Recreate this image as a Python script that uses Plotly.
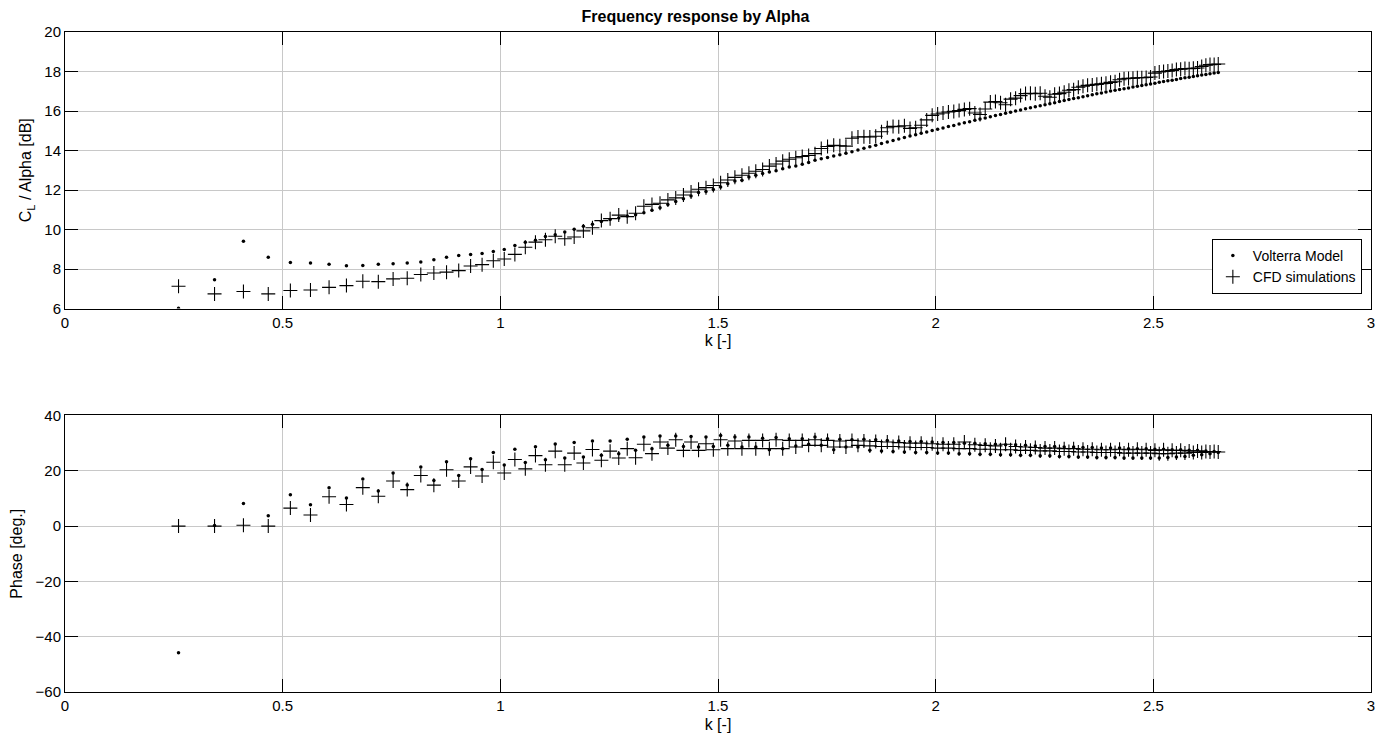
import plotly.graph_objects as go
from plotly.subplots import make_subplots

# reduced frequency k [-]
k = [0.2608, 0.3435, 0.4099, 0.4669, 0.5177, 0.5639, 0.6066, 0.6465, 0.6841, 0.7197,
     0.7537, 0.7861, 0.8173, 0.8473, 0.8764, 0.9044, 0.9317, 0.9581, 0.9839, 1.0090,
     1.0334, 1.0574, 1.0807, 1.1036, 1.1261, 1.1480, 1.1696, 1.1908, 1.2116, 1.2321,
     1.2522, 1.2720, 1.2915, 1.3107, 1.3297, 1.3483, 1.3668, 1.3849, 1.4029, 1.4206,
     1.4381, 1.4553, 1.4724, 1.4893, 1.5060, 1.5225, 1.5388, 1.5550, 1.5710, 1.5868,
     1.6025, 1.6180, 1.6334, 1.6486, 1.6637, 1.6787, 1.6935, 1.7082, 1.7228, 1.7372,
     1.7516, 1.7658, 1.7799, 1.7939, 1.8077, 1.8215, 1.8352, 1.8488, 1.8623, 1.8756,
     1.8889, 1.9021, 1.9152, 1.9282, 1.9411, 1.9540, 1.9667, 1.9794, 1.9920, 2.0045,
     2.0169, 2.0293, 2.0416, 2.0538, 2.0659, 2.0780, 2.0900, 2.1019, 2.1138, 2.1256,
     2.1373, 2.1490, 2.1606, 2.1721, 2.1836, 2.1950, 2.2064, 2.2177, 2.2289, 2.2401,
     2.2512, 2.2623, 2.2733, 2.2843, 2.2952, 2.3061, 2.3169, 2.3277, 2.3384, 2.3490,
     2.3597, 2.3702, 2.3808, 2.3912, 2.4017, 2.4121, 2.4224, 2.4327, 2.4430, 2.4532,
     2.4633, 2.4735, 2.4835, 2.4936, 2.5036, 2.5136, 2.5235, 2.5334, 2.5432, 2.5530,
     2.5628, 2.5726, 2.5823, 2.5919, 2.6015, 2.6111, 2.6207, 2.6302, 2.6397, 2.6491]

# magnitude C_L / Alpha [dB]
mag_volterra = [6.01, 7.45, 9.40, 8.60, 8.33, 8.31, 8.24, 8.16, 8.18, 8.24,
                8.27, 8.31, 8.36, 8.47, 8.60, 8.68, 8.74, 8.79, 8.89, 8.99,
                9.19, 9.36, 9.46, 9.64, 9.74, 9.87, 10.01, 10.16, 10.26, 10.41,
                10.51, 10.58, 10.68, 10.75, 10.85, 10.97, 11.10, 11.27, 11.42, 11.56,
                11.70, 11.87, 11.93, 12.03, 12.15, 12.32, 12.46, 12.49, 12.66, 12.75,
                12.83, 12.91, 12.97, 13.08, 13.17, 13.22, 13.30, 13.39, 13.51, 13.58,
                13.65, 13.72, 13.79, 13.86, 13.94, 14.03, 14.11, 14.19, 14.27, 14.35,
                14.43, 14.51, 14.58, 14.66, 14.73, 14.80, 14.87, 14.94, 15.01, 15.07,
                15.14, 15.21, 15.27, 15.34, 15.40, 15.46, 15.53, 15.59, 15.65, 15.71,
                15.77, 15.82, 15.88, 15.94, 16.00, 16.05, 16.11, 16.16, 16.22, 16.27,
                16.32, 16.37, 16.42, 16.48, 16.53, 16.58, 16.63, 16.67, 16.72, 16.77,
                16.82, 16.87, 16.91, 16.96, 17.01, 17.05, 17.09, 17.13, 17.17, 17.21,
                17.25, 17.29, 17.33, 17.37, 17.41, 17.45, 17.49, 17.53, 17.56, 17.60,
                17.64, 17.68, 17.71, 17.75, 17.78, 17.82, 17.85, 17.88, 17.92, 17.95]

mag_cfd = [7.13, 6.74, 6.86, 6.74, 6.91, 6.94, 7.07, 7.16, 7.38, 7.36,
           7.50, 7.53, 7.72, 7.80, 7.84, 7.92, 8.15, 8.22, 8.42, 8.51,
           8.74, 9.10, 9.36, 9.48, 9.66, 9.53, 9.62, 9.93, 10.09, 10.45,
           10.55, 10.73, 10.65, 10.82, 11.18, 11.27, 11.33, 11.50, 11.60, 11.75,
           11.90, 12.04, 12.12, 12.23, 12.37, 12.51, 12.64, 12.75, 12.85, 12.95,
           13.04, 13.21, 13.32, 13.46, 13.56, 13.63, 13.70, 13.75, 13.84, 14.10,
           14.20, 14.26, 14.24, 14.22, 14.62, 14.68, 14.70, 14.68, 14.72, 14.95,
           15.15, 15.22, 15.20, 15.25, 15.12, 15.15, 15.28, 15.55, 15.78, 15.85,
           15.90, 15.95, 15.98, 16.02, 16.08, 16.12, 15.90, 15.82, 16.10, 16.45,
           16.48, 16.42, 16.32, 16.60, 16.65, 16.78, 16.88, 16.90, 16.87, 16.90,
           16.75, 16.70, 16.85, 16.88, 16.95, 17.05, 17.08, 17.20, 17.25, 17.30,
           17.32, 17.35, 17.38, 17.40, 17.45, 17.48, 17.58, 17.63, 17.65, 17.66,
           17.68, 17.68, 17.70, 17.72, 17.92, 17.98, 18.00, 18.02, 18.05, 18.10,
           18.12, 18.15, 18.14, 18.16, 18.18, 18.25, 18.32, 18.35, 18.36, 18.38]

# phase [deg.]
phase_volterra = [-45.8, 0.2, 8.2, 3.7, 11.3, 7.7, 13.9, 10.2, 17.0, 12.7,
                  19.2, 14.9, 21.4, 16.5, 23.3, 18.3, 24.4, 20.5, 26.6, 22.1,
                  27.8, 23.0, 28.7, 24.0, 29.7, 24.6, 30.2, 25.0, 30.8, 25.6,
                  30.8, 26.2, 31.4, 27.4, 32.2, 28.0, 32.6, 29.2, 32.6, 28.8,
                  32.4, 28.6, 32.2, 28.8, 32.8, 29.2, 32.2, 28.6, 32.2, 28.6,
                  31.8, 27.6, 32.0, 28.0, 31.6, 29.0, 31.6, 29.6, 32.2, 29.2,
                  31.6, 27.6, 31.4, 28.6, 31.2, 28.6, 31.4, 27.4, 31.2, 27.2,
                  31.0, 27.0, 30.8, 26.8, 30.6, 26.6, 30.6, 26.6, 30.4, 26.4,
                  30.2, 26.4, 30.2, 26.2, 30.0, 26.2, 30.0, 26.0, 29.8, 26.0,
                  29.6, 25.8, 29.4, 25.8, 29.4, 25.6, 29.2, 25.6, 29.0, 25.4,
                  28.8, 25.4, 28.8, 25.2, 28.6, 25.2, 28.6, 25.0, 28.4, 25.0,
                  28.4, 24.8, 28.2, 24.8, 28.2, 24.8, 28.2, 24.6, 28.0, 24.6,
                  28.0, 24.6, 28.0, 24.6, 27.8, 24.6, 27.8, 24.8, 27.6, 25.0,
                  27.6, 25.2, 27.4, 25.6, 27.4, 25.8, 27.2, 26.2, 27.0, 26.6]

phase_cfd = [0.0, 0.0, 0.3, 0.0, 6.5, 4.0, 10.6, 7.8, 13.9, 10.8,
             16.3, 13.2, 18.3, 14.8, 20.4, 16.3, 21.4, 18.1, 23.1, 19.2,
             24.1, 20.7, 25.5, 22.2, 27.1, 22.2, 26.4, 22.8, 27.7, 23.8,
             27.1, 24.6, 28.0, 24.7, 29.6, 26.2, 30.4, 28.2, 31.2, 27.4,
             30.4, 27.4, 29.8, 27.6, 31.2, 28.0, 30.8, 28.0, 31.0, 28.0,
             31.0, 28.0, 31.2, 28.0, 31.0, 28.6, 31.0, 29.2, 31.2, 29.2,
             31.0, 28.6, 30.8, 28.6, 31.0, 29.2, 30.8, 29.0, 30.6, 28.8,
             30.4, 28.8, 30.2, 28.6, 30.0, 28.4, 30.0, 28.4, 29.8, 28.2,
             29.6, 28.2, 29.6, 28.0, 30.4, 28.0, 29.4, 27.8, 29.2, 27.8,
             29.0, 27.6, 29.6, 27.6, 28.8, 27.4, 28.6, 27.4, 28.4, 27.2,
             28.2, 27.2, 28.2, 27.0, 28.0, 27.0, 28.0, 26.8, 27.8, 26.8,
             27.8, 26.6, 27.6, 26.6, 27.6, 26.6, 27.8, 26.4, 27.6, 26.4,
             27.8, 26.4, 27.6, 26.4, 27.4, 26.2, 27.6, 26.2, 27.4, 26.4,
             27.4, 26.4, 27.2, 26.6, 27.2, 26.6, 27.0, 26.8, 27.0, 26.8]

x_ticks = [0, 0.5, 1, 1.5, 2, 2.5, 3]

FONT = "Liberation Sans, Arial, Helvetica, sans-serif"

fig = make_subplots(rows=2, cols=1, vertical_spacing=0.1621)

dot = dict(symbol="circle", size=3.5, color="black", line=dict(width=0))
plus = dict(symbol="cross-thin", size=10, color="black", line=dict(width=1.1, color="black"))

fig.add_trace(go.Scatter(x=k, y=mag_volterra, mode="markers", marker=dot,
                         name="Volterra Model"), row=1, col=1)
fig.add_trace(go.Scatter(x=k, y=mag_cfd, mode="markers", marker=plus,
                         name="CFD simulations"), row=1, col=1)
fig.add_trace(go.Scatter(x=k, y=phase_volterra, mode="markers", marker=dot,
                         name="Volterra Model", showlegend=False), row=2, col=1)
fig.add_trace(go.Scatter(x=k, y=phase_cfd, mode="markers", marker=plus,
                         name="CFD simulations", showlegend=False), row=2, col=1)

axis_common = dict(showline=True, linecolor="black", linewidth=1, mirror="ticks",
                   ticks="inside", ticklen=13, tickcolor="black", tickwidth=1,
                   showgrid=True, gridcolor="#c8c8c8", gridwidth=1, zeroline=False,
                   tickfont=dict(family=FONT, size=15, color="black"))

for r in (1, 2):
    fig.update_xaxes(range=[0, 3], tickvals=x_ticks, ticktext=[str(v) for v in x_ticks],
                     title=dict(text="k [-]", font=dict(family=FONT, size=16, color="black"),
                                standoff=5),
                     row=r, col=1, **axis_common)

fig.update_yaxes(range=[6, 20], dtick=2, row=1, col=1,
                 title=dict(text="C<sub>L</sub> / Alpha [dB]",
                            font=dict(family=FONT, size=16, color="black"), standoff=8),
                 **axis_common)
fig.update_yaxes(range=[-60, 40], dtick=20, row=2, col=1,
                 title=dict(text="Phase [deg.]",
                            font=dict(family=FONT, size=16, color="black"), standoff=8),
                 **axis_common)

fig.update_layout(
    width=1391, height=744,
    margin=dict(l=65, r=20, t=32, b=52),
    paper_bgcolor="white", plot_bgcolor="white",
    font=dict(family=FONT, size=14, color="black"),
    title=dict(text="<b>Frequency response by Alpha</b>", x=0.5, xanchor="center",
               y=0.985, yanchor="top", font=dict(family=FONT, size=16, color="black")),
    legend=dict(x=0.993, y=0.603, xanchor="right", yanchor="bottom",
                bordercolor="black", borderwidth=1, bgcolor="white",
                font=dict(family=FONT, size=14, color="black"),
                tracegroupgap=0),
    showlegend=True,
)

fig.write_html("out.html")
